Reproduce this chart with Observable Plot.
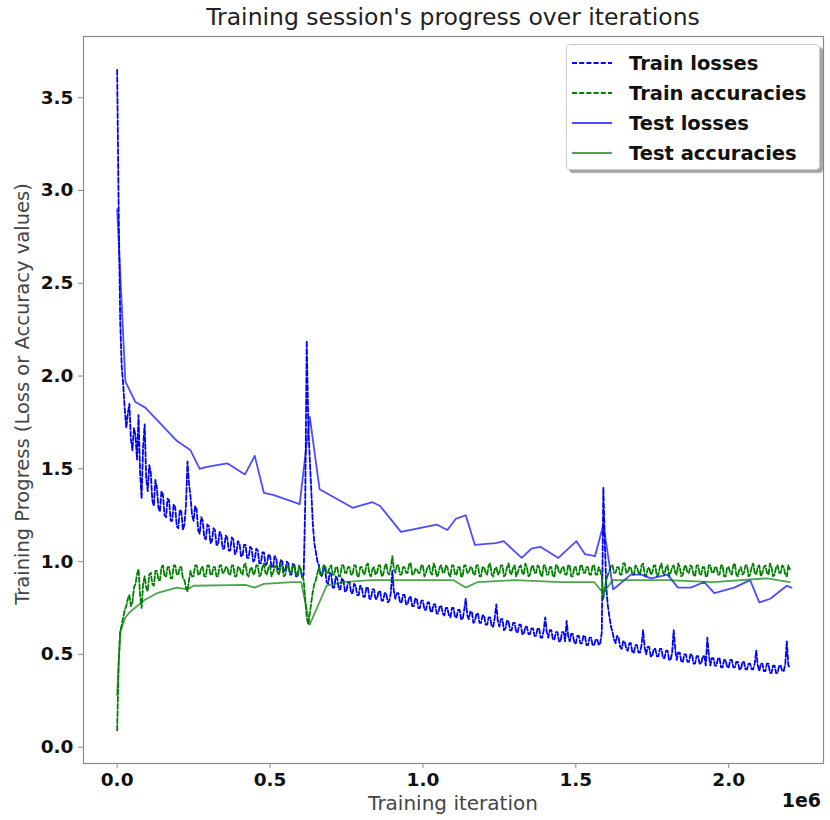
<!DOCTYPE html>
<html>
<head>
<meta charset="utf-8">
<script src="https://cdn.jsdelivr.net/npm/d3@7"></script>
<script src="https://cdn.jsdelivr.net/npm/@observablehq/plot@0.6"></script>
<style>
  body { margin: 0; background: #fff; }
  #wrap { position: relative; width: 830px; height: 820px; font-family: "DejaVu Sans", sans-serif; }
  #title { position: absolute; left: 83px; width: 740px; top: 3px; text-align: center; font-size: 23.5px; color: #222; }
  #xlabel { position: absolute; left: 83px; width: 740px; top: 791px; text-align: center; font-size: 20px; color: #444; }
  #ylabel { position: absolute; left: 22px; top: 394px; transform: translate(-50%, -50%) rotate(-90deg); white-space: nowrap; font-size: 19.5px; color: #444; }
  #xexp { position: absolute; right: 9px; top: 789px; font-size: 19px; font-weight: bold; color: #111; }
  #legend { position: absolute; left: 566px; top: 44px; width: 254px; height: 126px; box-sizing: border-box;
            border: 1px solid #ccc; border-radius: 4px; background: #fff; box-shadow: 3px 3px 1px rgba(0,0,0,0.35); }
  .lg { position: absolute; left: 0; height: 30px; display: flex; align-items: center; font-size: 19.5px; font-weight: bold; color: #111; }
  .lg svg { margin-left: 5px; margin-right: 17px; }
</style>
</head>
<body>
<div id="wrap">
  <div id="title">Training session's progress over iterations</div>
  <div id="chart"></div>
  <div id="xlabel">Training iteration</div>
  <div id="ylabel">Training Progress (Loss or Accuracy values)</div>
  <div id="xexp">1e6</div>
  <div id="legend"></div>
</div>
<script>
// ---- data ----
const trainIterStep = 5000; // iterations between logged train points
const trainLoss = [
  3.65,2.90,2.30,2.05,1.95,1.82,1.72,1.80,1.85,1.66,1.60,1.72,1.68,1.55,1.79,1.48,1.34,1.62,1.74,1.45,
  1.38,1.52,1.48,1.33,1.30,1.44,1.40,1.29,1.27,1.38,1.36,1.25,1.24,1.34,1.33,1.22,1.22,1.31,1.29,1.19,
  1.18,1.28,1.27,1.17,1.20,1.30,1.54,1.42,1.35,1.25,1.22,1.30,1.28,1.17,1.15,1.24,1.22,1.13,1.12,1.20,
  1.19,1.10,1.11,1.18,1.17,1.09,1.09,1.16,1.15,1.07,1.07,1.14,1.13,1.06,1.06,1.13,1.12,1.04,1.05,1.11,
  1.10,1.03,1.03,1.09,1.09,1.02,1.02,1.08,1.07,1.00,1.01,1.07,1.06,0.99,0.99,1.05,1.05,0.98,0.99,1.04,
  1.03,0.97,0.97,1.03,1.02,0.96,0.96,1.01,1.00,0.95,0.95,1.00,0.99,0.93,0.93,0.99,0.98,0.92,0.92,0.97,
  0.96,0.91,0.93,1.30,2.19,1.75,1.55,1.38,1.20,1.10,1.05,1.00,0.98,0.93,0.92,0.97,0.96,0.89,0.88,0.94,
  0.93,0.86,0.86,0.92,0.91,0.85,0.85,0.91,0.90,0.84,0.84,0.89,0.89,0.83,0.83,0.88,0.87,0.82,0.82,0.87,
  0.86,0.81,0.81,0.86,0.86,0.80,0.80,0.85,0.85,0.80,0.80,0.84,0.84,0.79,0.79,0.83,0.83,0.78,0.79,0.83,
  0.95,0.84,0.80,0.83,0.83,0.78,0.78,0.82,0.82,0.77,0.77,0.81,0.81,0.76,0.76,0.80,0.80,0.75,0.75,0.79,
  0.79,0.74,0.74,0.78,0.78,0.73,0.73,0.77,0.77,0.72,0.72,0.76,0.76,0.72,0.71,0.75,0.75,0.71,0.70,0.75,
  0.75,0.70,0.70,0.74,0.74,0.69,0.69,0.74,0.80,0.71,0.69,0.73,0.73,0.67,0.68,0.72,0.72,0.67,0.67,0.71,
  0.71,0.66,0.66,0.70,0.70,0.65,0.65,0.70,0.77,0.68,0.65,0.69,0.69,0.63,0.64,0.68,0.68,0.63,0.63,0.67,
  0.67,0.62,0.62,0.66,0.66,0.61,0.61,0.65,0.65,0.61,0.61,0.64,0.64,0.60,0.60,0.64,0.64,0.59,0.59,0.63,
  0.70,0.62,0.59,0.63,0.63,0.58,0.58,0.62,0.62,0.57,0.57,0.62,0.62,0.57,0.68,0.60,0.57,0.61,0.61,0.56,
  0.56,0.60,0.60,0.56,0.56,0.60,0.60,0.55,0.55,0.59,0.59,0.55,0.55,0.58,0.58,0.55,0.56,0.62,1.40,1.10,
  0.85,0.76,0.70,0.65,0.62,0.58,0.56,0.60,0.59,0.54,0.53,0.57,0.57,0.53,0.52,0.56,0.56,0.51,0.51,0.55,
  0.55,0.51,0.51,0.55,0.63,0.54,0.50,0.54,0.54,0.49,0.49,0.53,0.53,0.49,0.49,0.53,0.53,0.48,0.48,0.52,
  0.52,0.47,0.47,0.51,0.63,0.53,0.47,0.51,0.51,0.46,0.46,0.50,0.50,0.46,0.46,0.50,0.50,0.45,0.45,0.49,
  0.49,0.45,0.45,0.49,0.49,0.44,0.59,0.50,0.44,0.48,0.48,0.44,0.44,0.48,0.48,0.43,0.43,0.47,0.47,0.43,
  0.43,0.47,0.47,0.43,0.43,0.46,0.46,0.42,0.42,0.46,0.46,0.42,0.42,0.45,0.45,0.42,0.42,0.45,0.52,0.44,
  0.41,0.45,0.45,0.41,0.41,0.45,0.45,0.40,0.40,0.44,0.44,0.40,0.40,0.44,0.44,0.41,0.41,0.45,0.57,0.44,
  0.43
];
const trainAcc = [
  0.09,0.45,0.62,0.66,0.70,0.74,0.76,0.80,0.82,0.76,0.78,0.86,0.88,0.93,0.96,0.82,0.75,0.88,0.92,0.86,
  0.84,0.93,0.94,0.88,0.87,0.95,0.95,0.90,0.90,0.97,0.98,0.92,0.92,0.97,0.97,0.91,0.91,0.98,0.98,0.93,
  0.93,0.97,0.97,0.91,0.90,0.86,0.84,0.90,0.95,0.92,0.92,0.98,0.98,0.93,0.93,0.97,0.97,0.92,0.92,0.98,
  0.98,0.93,0.93,0.97,0.97,0.92,0.92,0.98,0.98,0.94,0.94,0.97,0.97,0.93,0.93,0.98,0.98,0.92,0.92,0.97,
  0.97,0.94,0.93,0.98,0.99,0.93,0.92,0.96,0.97,0.93,0.94,0.98,0.98,0.92,0.93,0.97,0.99,0.94,0.93,0.97,
  0.98,0.92,0.94,0.97,0.98,0.94,0.93,0.99,0.97,0.92,0.93,0.97,0.98,0.94,0.94,0.98,0.97,0.93,0.92,0.98,
  0.96,0.92,0.90,0.80,0.70,0.66,0.72,0.78,0.84,0.88,0.90,0.94,0.97,0.93,0.93,0.98,0.98,0.94,0.94,0.97,
  0.98,0.93,0.93,0.97,0.97,0.92,0.92,0.98,0.98,0.94,0.94,0.97,0.97,0.93,0.93,0.98,0.98,0.92,0.92,0.97,
  0.97,0.94,0.93,0.98,0.99,0.93,0.92,0.96,0.97,0.93,0.94,0.98,0.98,0.92,0.93,0.97,0.99,0.94,0.93,0.97,
  1.03,0.96,0.94,0.98,0.98,0.93,0.93,0.97,0.97,0.94,0.94,0.99,0.99,0.93,0.93,0.96,0.96,0.94,0.94,0.98,
  0.98,0.92,0.94,0.97,0.98,0.94,0.93,0.99,0.97,0.92,0.93,0.97,0.98,0.94,0.94,0.98,0.97,0.93,0.92,0.98,
  0.98,0.93,0.93,0.97,0.97,0.92,0.92,0.98,0.98,0.94,0.94,0.97,0.97,0.93,0.93,0.98,0.98,0.92,0.92,0.97,
  0.97,0.94,0.93,0.98,0.99,0.93,0.92,0.96,0.97,0.93,0.94,0.98,0.98,0.92,0.93,0.97,0.99,0.94,0.93,0.97,
  0.98,0.92,0.94,0.97,0.98,0.94,0.93,0.99,0.97,0.92,0.93,0.97,0.98,0.94,0.94,0.98,0.97,0.93,0.92,0.98,
  0.98,0.93,0.93,0.97,0.97,0.92,0.92,0.98,0.98,0.94,0.94,0.97,0.97,0.93,0.93,0.98,0.98,0.92,0.92,0.97,
  0.97,0.93,0.93,0.98,0.98,0.94,0.94,0.97,0.97,0.93,0.93,0.98,0.98,0.93,0.93,0.97,0.95,0.92,0.80,0.86,
  0.90,0.93,0.95,0.98,0.98,0.94,0.94,0.97,0.97,0.93,0.93,0.99,0.99,0.94,0.94,0.97,0.97,0.93,0.93,0.98,
  0.97,0.94,0.93,0.98,0.99,0.93,0.92,0.96,0.97,0.93,0.94,0.98,0.98,0.92,0.93,0.97,0.99,0.94,0.93,0.97,
  0.98,0.92,0.94,0.97,0.98,0.94,0.93,0.99,0.97,0.92,0.93,0.97,0.98,0.94,0.94,0.98,0.97,0.93,0.92,0.98,
  0.98,0.93,0.93,0.97,0.97,0.92,0.92,0.98,0.98,0.94,0.94,0.97,0.97,0.93,0.93,0.98,0.98,0.92,0.92,0.97,
  0.97,0.94,0.93,0.98,0.99,0.93,0.92,0.96,0.97,0.93,0.94,0.98,0.98,0.92,0.93,0.97,0.99,0.94,0.93,0.97,
  0.98,0.92,0.94,0.97,0.98,0.94,0.93,0.99,0.97,0.92,0.93,0.97,0.98,0.94,0.94,0.98,0.97,0.93,0.92,0.98,
  0.96
];
const testLossIter = [0,27000,60000,92000,196000,240000,270000,293000,360000,418000,450000,480000,510000,597000,630000,662000,770000,835000,860000,928000,1045000,1080000,1107000,1140000,1170000,1238000,1264000,1323000,1355000,1384000,1443000,1502000,1530000,1563000,1590000,1622000,1680000,1713000,1746000,1800000,1834000,1876000,1920000,1953000,2018000,2070000,2100000,2136000,2190000,2205000];
const testLoss = [2.90,1.97,1.86,1.83,1.65,1.60,1.50,1.51,1.53,1.47,1.57,1.37,1.36,1.31,1.78,1.39,1.29,1.32,1.30,1.16,1.20,1.17,1.23,1.25,1.09,1.10,1.11,1.02,1.07,1.08,1.02,1.11,1.04,1.03,1.20,0.85,0.93,0.93,0.91,0.93,0.86,0.86,0.89,0.83,0.86,0.90,0.78,0.80,0.87,0.86];
const testAccIter = [0,10000,27000,43000,87000,130000,195000,230000,250000,420000,450000,480000,575000,602000,630000,685000,740000,830000,930000,1100000,1140000,1180000,1300000,1450000,1560000,1590000,1620000,1800000,1950000,2125000,2200000];
const testAcc = [0.28,0.62,0.70,0.73,0.79,0.83,0.86,0.85,0.87,0.875,0.86,0.88,0.89,0.89,0.66,0.87,0.89,0.90,0.90,0.90,0.86,0.89,0.90,0.89,0.89,0.83,0.90,0.90,0.89,0.91,0.89];
const xTicks = [0, 500000, 1000000, 1500000, 2000000];
const yTicks = [0, 0.5, 1.0, 1.5, 2.0, 2.5, 3.0, 3.5];
const seriesNames = ["Train losses", "Train accuracies", "Test losses", "Test accuracies"];

// ---- build tables ----
const trainLossRows = trainLoss.map((v, i) => ({x: i * trainIterStep, y: v}));
const trainAccRows = trainAcc.map((v, i) => ({x: i * trainIterStep, y: v}));
const testLossRows = testLoss.map((v, i) => ({x: testLossIter[i], y: v}));
const testAccRows = testAcc.map((v, i) => ({x: testAccIter[i], y: v}));

const BLUE = "#0000ff", GREEN = "#008000";
const styles = [
  {stroke: BLUE, dash: "5,2.2", opacity: 1},
  {stroke: GREEN, dash: "5,2.2", opacity: 1},
  {stroke: BLUE, dash: null, opacity: 0.7},
  {stroke: GREEN, dash: null, opacity: 0.7}
];

const chart = Plot.plot({
  width: 830,
  height: 820,
  marginLeft: 83,
  marginRight: 7,
  marginTop: 36,
  marginBottom: 57,
  style: {fontFamily: "DejaVu Sans, sans-serif", background: "transparent"},
  x: {domain: [-110000, 2310000]},
  y: {domain: [-0.088, 3.83]},
  marks: [
    Plot.frame({stroke: "#8a8a8a", strokeWidth: 1.2}),
    Plot.axisX({ticks: xTicks, tickFormat: d => (d / 1e6).toFixed(1), tickSize: 5, tickPadding: 4,
      label: null, fontSize: 18.5, fontWeight: "bold", fill: "#111", stroke: "#8a8a8a"}),
    Plot.axisY({ticks: yTicks, tickFormat: d => d.toFixed(1), tickSize: 5, tickPadding: 5,
      label: null, fontSize: 18.5, fontWeight: "bold", fill: "#111", stroke: "#8a8a8a"}),
    Plot.line(trainLossRows, {x: "x", y: "y", stroke: BLUE, strokeWidth: 1.8, strokeDasharray: "5,2.2"}),
    Plot.line(trainAccRows, {x: "x", y: "y", stroke: GREEN, strokeWidth: 1.8, strokeDasharray: "5,2.2"}),
    Plot.line(testLossRows, {x: "x", y: "y", stroke: BLUE, strokeWidth: 1.8, strokeOpacity: 0.7}),
    Plot.line(testAccRows, {x: "x", y: "y", stroke: GREEN, strokeWidth: 1.8, strokeOpacity: 0.7})
  ]
});
document.getElementById("chart").appendChild(chart);

// ---- legend ----
const legend = document.getElementById("legend");
seriesNames.forEach((name, i) => {
  const s = styles[i];
  const row = document.createElement("div");
  row.className = "lg";
  row.style.top = (3 + i * 30) + "px";
  row.innerHTML = `<svg width="40" height="10"><line x1="0" y1="5" x2="40" y2="5" stroke="${s.stroke}" stroke-width="1.8"
     ${s.dash ? `stroke-dasharray="${s.dash}"` : ""} stroke-opacity="${s.opacity}"/></svg><span>${name}</span>`;
  legend.appendChild(row);
});
</script>
</body>
</html>
